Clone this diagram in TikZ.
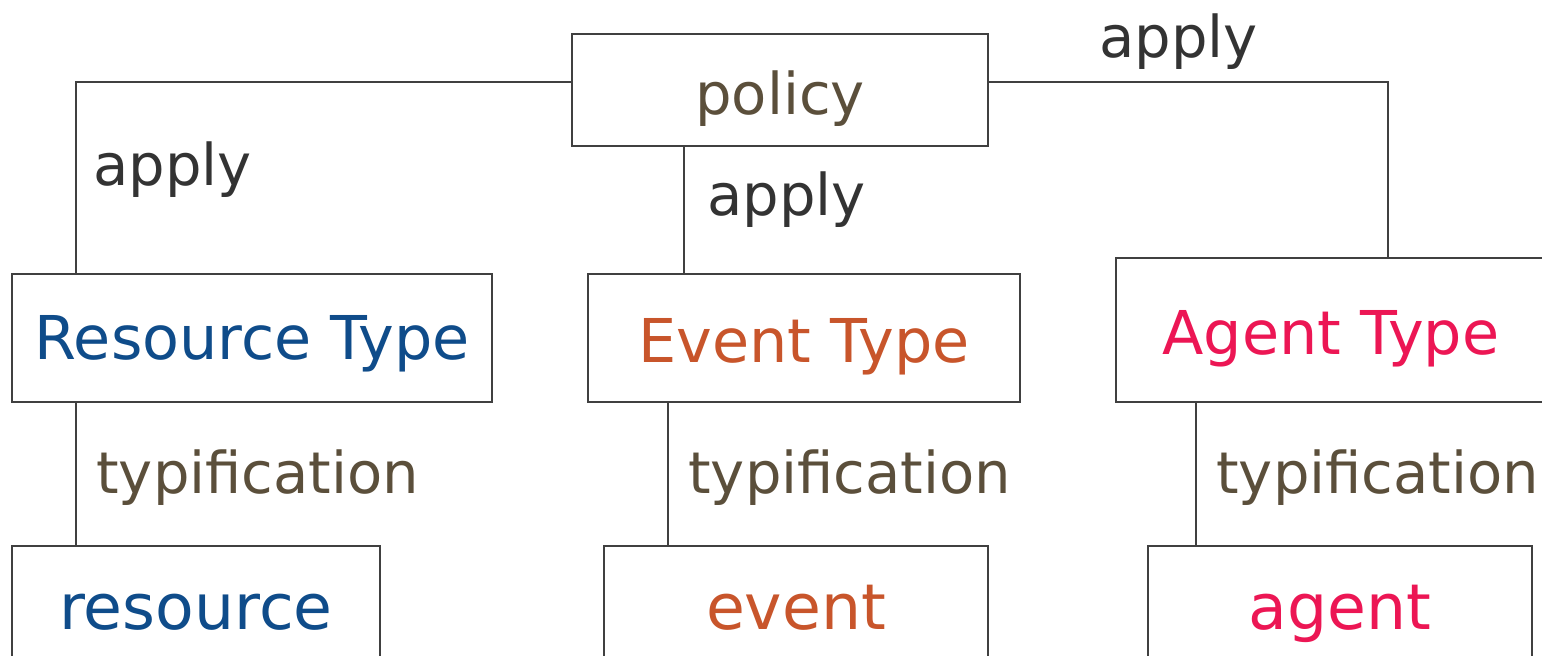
\documentclass[tikz,border=0pt]{standalone}
\usepackage{fontspec}
\setmainfont{DejaVu Sans}
\definecolor{edgec}{HTML}{404040}
\definecolor{brownc}{HTML}{5B4F3B}
\definecolor{applyc}{HTML}{333333}
\definecolor{bluec}{HTML}{0F4C8A}
\definecolor{orangec}{HTML}{C8552B}
\definecolor{pinkc}{HTML}{EC1654}
\begin{document}
\begin{tikzpicture}[x=0.5pt,y=-0.5pt,
  box/.style={draw=edgec,line width=1pt,fill=white,inner sep=0pt,outer sep=0pt,
    font=\fontsize{28.8pt}{34pt}\selectfont,text height=24pt,text depth=0pt},
  typebox/.style={box,font=\fontsize{30.2pt}{36pt}\selectfont},
  itembox/.style={box,font=\fontsize{31.6pt}{38pt}\selectfont,text height=19pt},
  lbl/.style={inner sep=0pt,anchor=base west,font=\fontsize{28.8pt}{34pt}\selectfont},
  conn/.style={draw=edgec,line width=1pt}]
\useasboundingbox (0,0) rectangle (1542,655);
\clip (0,0) rectangle (1542,655);
\node[box,minimum width=208pt,minimum height=56pt,text=brownc] (policy) at (780,90) {policy};
\node[typebox,minimum width=240pt,minimum height=64pt,text=bluec,text height=21pt] (rtype) at (252,338) {Resource Type};
\node[typebox,minimum width=216pt,minimum height=64pt,text=orangec] (etype) at (804,338) {Event Type};
\node[typebox,minimum width=215pt,minimum height=72pt,text=pinkc] (atype) at (1331,330) {Agent Type};
\node[itembox,minimum width=184pt,minimum height=64pt,text=bluec] (resource) at (196,610) {resource};
\node[itembox,minimum width=192pt,minimum height=64pt,text=orangec] (event) at (796,610) {event};
\node[itembox,minimum width=192pt,minimum height=64pt,text=pinkc] (agent) at (1340,610) {agent};
\draw[conn] ([yshift=4pt]policy.west) -| ([xshift=32pt]rtype.north west);
\draw[conn] ([yshift=4pt]policy.east) -| ([xshift=136pt]atype.north west);
\draw[conn] ([xshift=56pt]policy.south west) -- ([xshift=48pt]etype.north west);
\draw[conn] ([xshift=32pt]rtype.south west) -- ([xshift=32pt]resource.north west);
\draw[conn] ([xshift=40pt]etype.south west) -- ([xshift=32pt]event.north west);
\draw[conn] ([xshift=40pt]atype.south west) -- ([xshift=24pt]agent.north west);
\node[lbl,text=applyc] (apply1) at (93,185) {apply};
\node[lbl,text=applyc] (apply2) at (707,215) {apply};
\node[lbl,text=applyc] (apply3) at (1099,57) {apply};
\node[lbl,text=brownc] (typ1) at (96,493) {typification};
\node[lbl,text=brownc] (typ2) at (688,493) {typification};
\node[lbl,text=brownc] (typ3) at (1216,493) {typification};
\end{tikzpicture}
\end{document}
